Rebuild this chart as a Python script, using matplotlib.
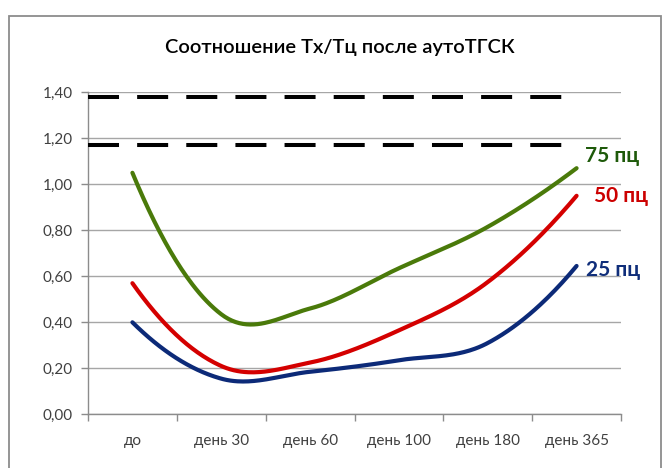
import numpy as np
import matplotlib
matplotlib.use("Agg")
import matplotlib.pyplot as plt
from matplotlib.patches import Rectangle

# ---- data ----
categories = ["до", "день 30", "день 60", "день 100", "день 180", "день 365"]
series_names = ["25 пц", "50 пц", "75 пц"]
values_25 = [0.40, 0.155, 0.185, 0.235, 0.31, 0.645]
values_50 = [0.57, 0.21, 0.225, 0.365, 0.575, 0.95]
values_75 = [1.05, 0.435, 0.46, 0.635, 0.815, 1.07]
ref_levels = [1.38, 1.17]
ref_span = [-0.5, 4.86]
y_ticks = [0.0, 0.2, 0.4, 0.6, 0.8, 1.0, 1.2, 1.4]
title = "Соотношение Тх/Тц после аутоТГСК"

colors = {"25 пц": "#0c2a78", "50 пц": "#d40000", "75 пц": "#4a7a0a"}
label_colors = {"25 пц": "#102e7a", "50 пц": "#cc0000", "75 пц": "#1e5a0a"}

plt.rcParams['font.family'] = ['Lato', 'DejaVu Sans']


def smooth(xs, ys, n=50):
    """Cardinal-spline smoothing with parabolic end conditions
    (similar to a spreadsheet 'smoothed line')."""
    xs = np.asarray(xs, float)
    ys = np.asarray(ys, float)
    k = len(ys)
    m = np.zeros(k)
    for i in range(1, k - 1):
        m[i] = (ys[i + 1] - ys[i - 1]) / 2
    m[0] = 2 * (ys[1] - ys[0]) - m[1]
    m[-1] = 2 * (ys[-1] - ys[-2]) - m[-2]
    t = np.linspace(0, 1, n)
    h00 = 2 * t**3 - 3 * t**2 + 1
    h10 = t**3 - 2 * t**2 + t
    h01 = -2 * t**3 + 3 * t**2
    h11 = t**3 - t**2
    ox, oy = [], []
    for i in range(k - 1):
        ox.append(xs[i] + t * (xs[i + 1] - xs[i]))
        oy.append(h00 * ys[i] + h10 * m[i] + h01 * ys[i + 1] + h11 * m[i + 1])
    return np.concatenate(ox), np.concatenate(oy)


fig = plt.figure(figsize=(6.62, 4.68), dpi=100)
fig.patch.set_facecolor("white")

# outer chart border
fig.patches.append(Rectangle((9 / 662, -0.05), (661 - 9) / 662, 1.05 - 16 / 468,
                             transform=fig.transFigure, fill=False,
                             edgecolor="#8c8c8c", linewidth=1.3, zorder=0))

ax = fig.add_axes([88 / 662, 1 - 414.3 / 468, (621 - 88) / 662, (414.3 - 92.3) / 468])

x = np.arange(len(categories))
ax.set_xlim(-0.5, len(categories) - 0.5)
ax.set_ylim(0, 1.4)

ax.set_yticks(y_ticks)
ax.set_yticklabels([f"{v:.2f}".replace(".", ",") for v in y_ticks])
ax.yaxis.grid(True, color="#a6a6a6", linewidth=1.0)
ax.set_axisbelow(True)

ax.set_xticks(x)
ax.set_xticklabels(categories)
ax.set_xticks(np.arange(-0.5, len(categories)), minor=True)
ax.tick_params(axis="x", which="major", length=0, pad=14, labelsize=11, labelcolor="#404040")
ax.tick_params(axis="x", which="minor", length=5, color="#8c8c8c", width=1)
ax.tick_params(axis="y", length=5, color="#8c8c8c", width=1, pad=6, labelsize=11,
               labelcolor="#404040")

for s in ["top", "right"]:
    ax.spines[s].set_visible(False)
for s in ["left", "bottom"]:
    ax.spines[s].set_color("#8c8c8c")
    ax.spines[s].set_linewidth(1.0)

for lvl in ref_levels:
    ax.plot(ref_span, [lvl, lvl], color="black", linewidth=2.9,
            dashes=(7.7, 4.5), solid_capstyle="butt", dash_capstyle="butt",
            clip_on=False, zorder=3)

series = {"25 пц": values_25, "50 пц": values_50, "75 пц": values_75}
for name, vals in series.items():
    sx, sy = smooth(x, vals)
    ax.plot(sx, sy, color=colors[name], linewidth=3.0, solid_capstyle="round",
            zorder=4, clip_on=False)

label_pos = {"75 пц": (5.10, 1.123), "50 пц": (5.20, 0.949), "25 пц": (5.11, 0.627)}
for name, (lx, ly) in label_pos.items():
    ax.text(lx, ly, name, color=label_colors[name], fontsize=15, fontweight="bold",
            va="center", ha="left", clip_on=False)

fig.text(340 / 662, 1 - 47 / 468, title, ha="center", va="center",
         fontsize=14.5, fontweight="semibold", color="black")

fig.savefig("out.png", dpi=100, facecolor="white")
